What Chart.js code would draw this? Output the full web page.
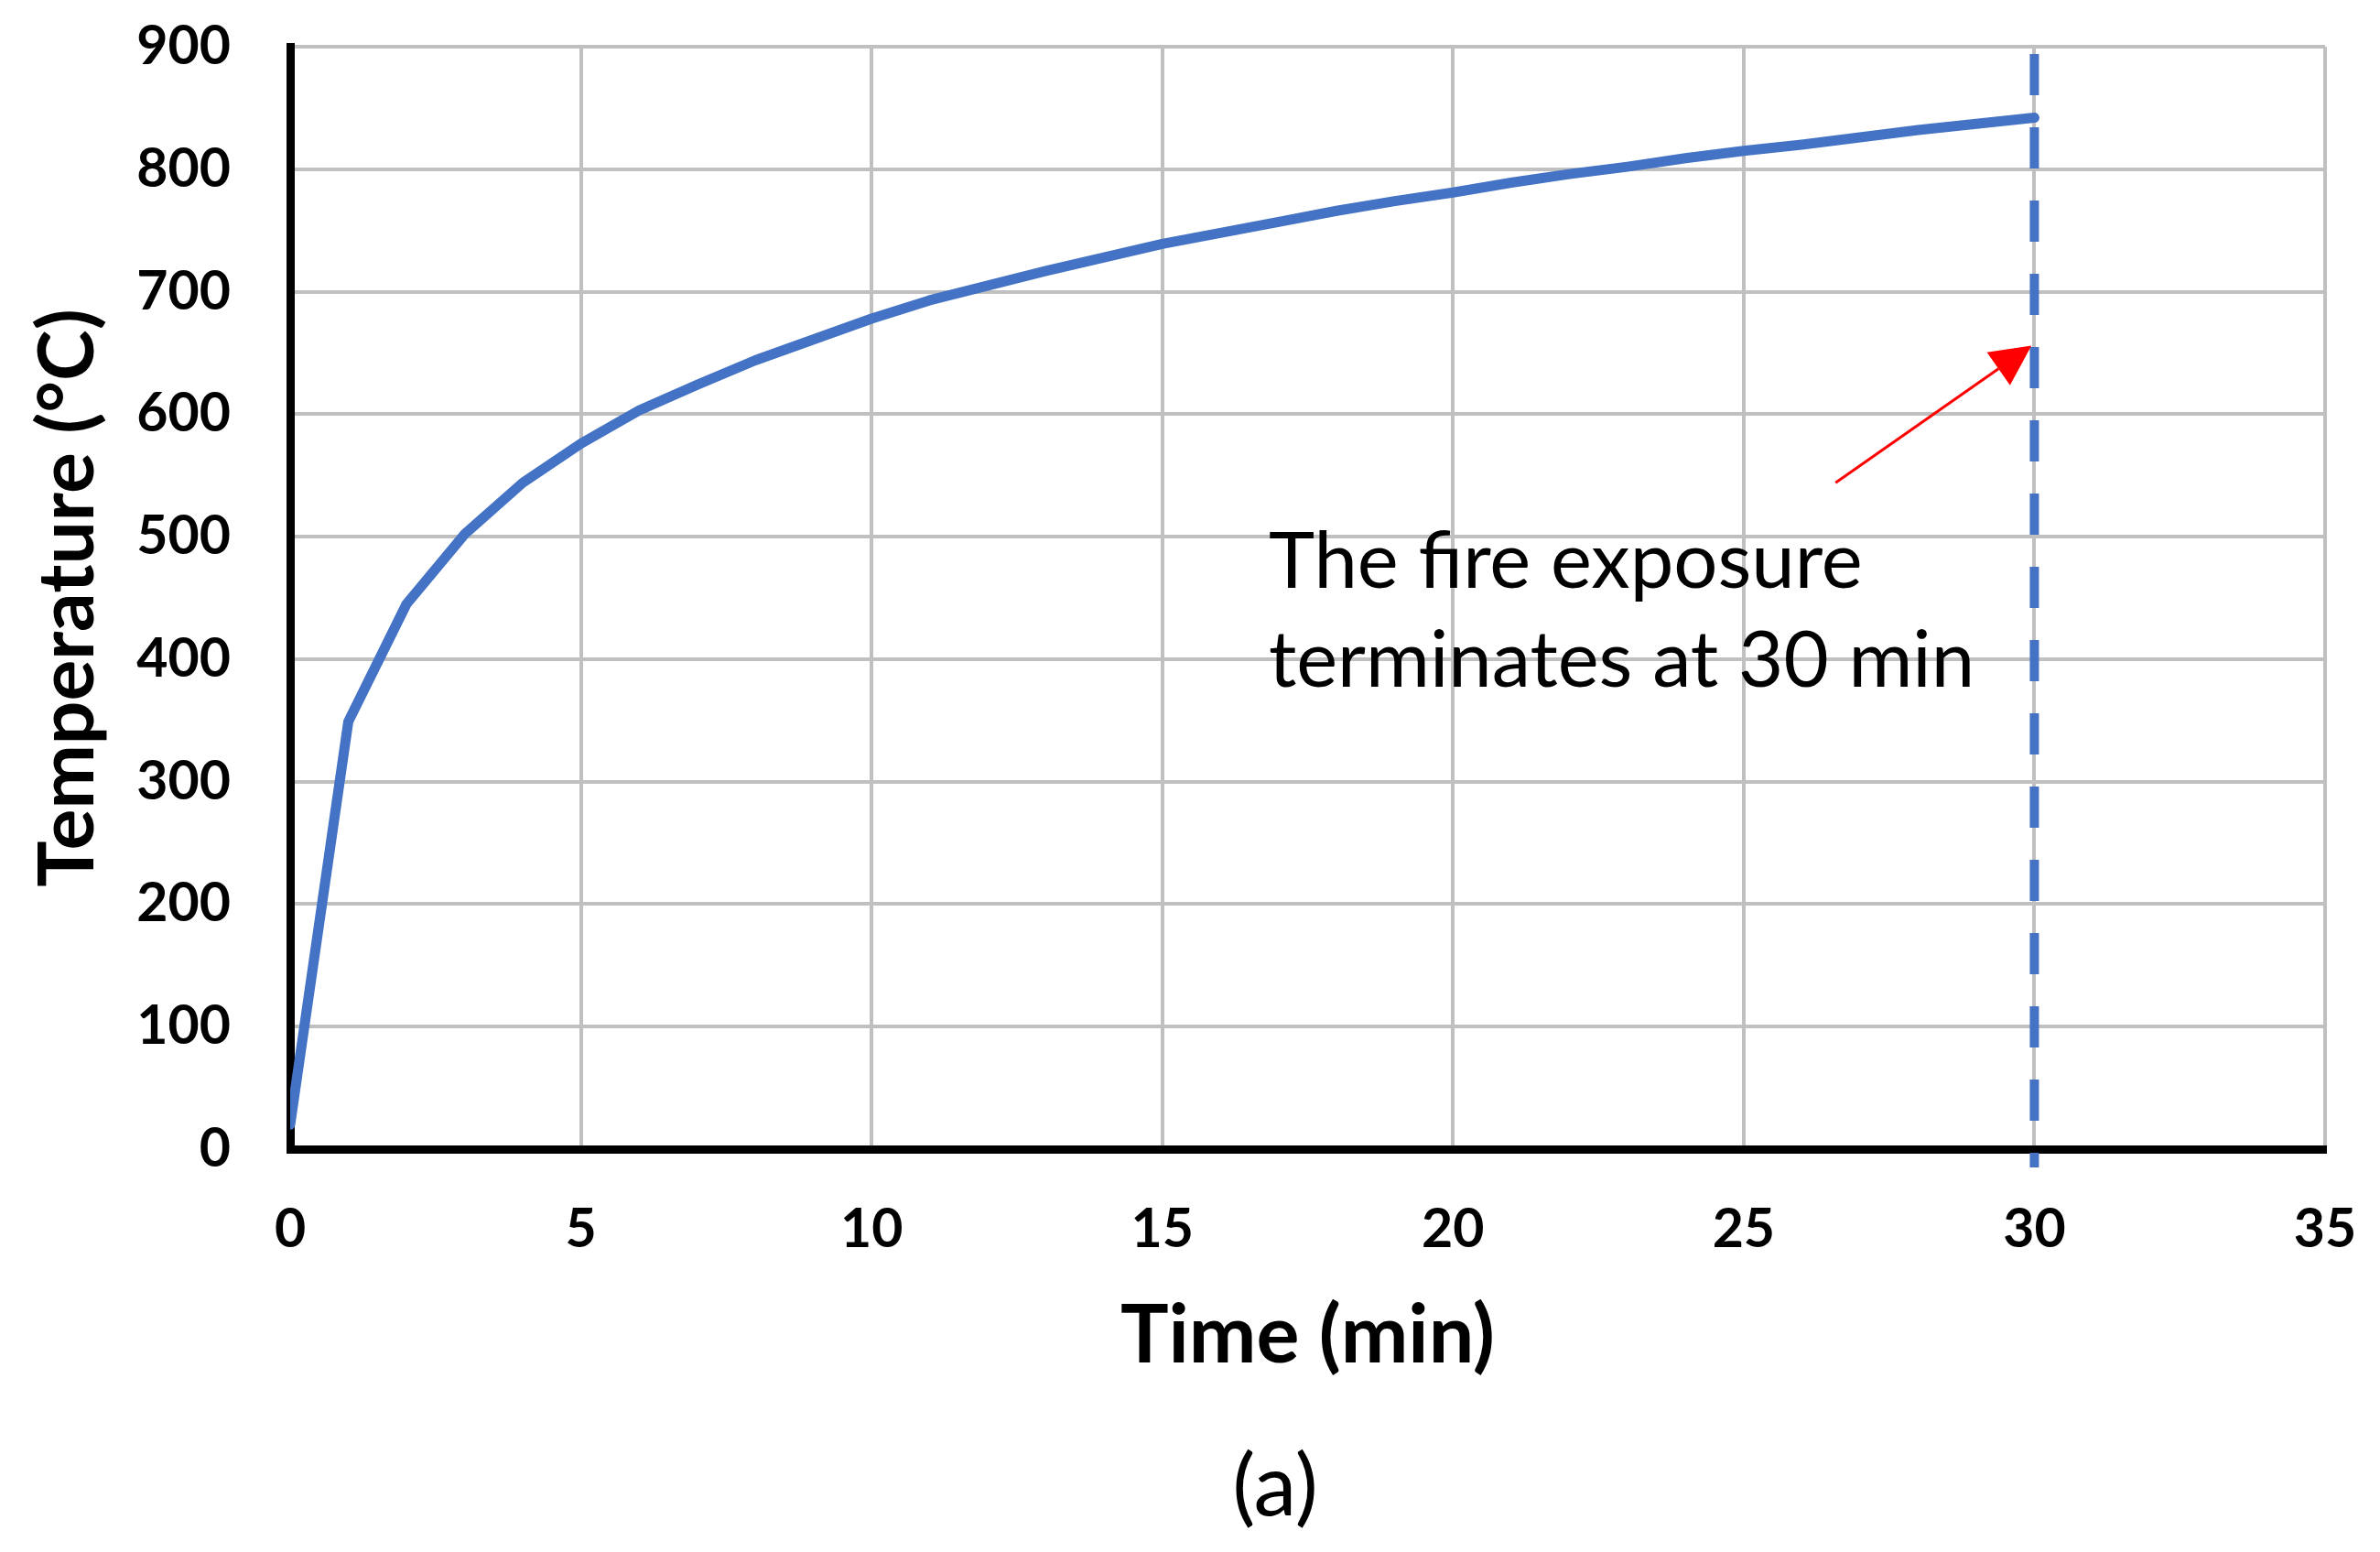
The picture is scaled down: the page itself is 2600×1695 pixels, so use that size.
<!DOCTYPE html>
<html lang="en">
<head>
<meta charset="UTF-8">
<title>Fire exposure temperature</title>
<script src="https://cdn.jsdelivr.net/npm/chart.js"></script>
<style>
  body { margin: 0; background: #fff; }
  canvas { display: block; }
</style>
</head>
<body>
<canvas id="fireChart" width="2600" height="1695"></canvas>
<script>
// gas temperature, one point per minute
const timeMin = [0, 1, 2, 3, 4, 5, 6, 7, 8, 9, 10, 11, 12, 13, 14, 15,
                 16, 17, 18, 19, 20, 21, 22, 23, 24, 25, 26, 27, 28, 29, 30];
const tempC = [20, 349, 445, 502, 544, 576, 603, 624, 644, 661, 678, 693, 705, 717, 728, 739,
               748, 757, 766, 774, 781, 789, 796, 802, 809, 815, 820, 826, 832, 837, 842];

// axis ticks
const xTicks = [0, 5, 10, 15, 20, 25, 30, 35];
const yTicks = [0, 100, 200, 300, 400, 500, 600, 700, 800, 900];

// end of exposure, dashed marker runs between these temperatures
const cutoffTime = 30;
const cutoffRange = [894, -15];

// red arrow (min, °C)
const arrowTail = [26.58, 544];
const arrowHead = [29.95, 656];

// note text
const noteLines = ['The fire exposure', 'terminates at 30 min'];
const noteX = 16.83;
const noteBaselines = [458, 377.5];

const blue = '#4472C4';
const gridGrey = '#C0C0C0';

// pick a Lato size that gives the text the width it has in the figure
const measureCtx = document.createElement('canvas').getContext('2d');
function fitSize(text, weight, width) {
    measureCtx.font = weight + ' 100px Lato';
    return Math.round(100 * width / measureCtx.measureText(text).width);
}
const tickSize = fitSize('900', 'bold', 103);
const xTitleSize = fitSize('Time (min)', 'bold', 410);
const yTitleSize = fitSize('Temperature (\u00B0C)', 'bold', 630);
const noteSize = fitSize(noteLines[1], 'normal', 770);
const captionSize = fitSize('(a)', 'normal', 93);

// arrow, note and the (a) caption
const extras = {
    id: 'extras',
    afterDatasetsDraw(chart) {
        const { ctx, scales: { x, y } } = chart;
        ctx.save();

        const x0 = x.getPixelForValue(arrowTail[0]), y0 = y.getPixelForValue(arrowTail[1]);
        const x1 = x.getPixelForValue(arrowHead[0]), y1 = y.getPixelForValue(arrowHead[1]);
        const ang = Math.atan2(y1 - y0, x1 - x0);
        const headLen = 44, headHalf = 22;
        const bx = x1 - headLen * Math.cos(ang), by = y1 - headLen * Math.sin(ang);
        ctx.strokeStyle = '#FF0000';
        ctx.fillStyle = '#FF0000';
        ctx.lineWidth = 3;
        ctx.beginPath();
        ctx.moveTo(x0, y0);
        ctx.lineTo(bx, by);
        ctx.stroke();
        ctx.beginPath();
        ctx.moveTo(x1, y1);
        ctx.lineTo(bx + headHalf * Math.sin(ang), by - headHalf * Math.cos(ang));
        ctx.lineTo(bx - headHalf * Math.sin(ang), by + headHalf * Math.cos(ang));
        ctx.closePath();
        ctx.fill();

        ctx.fillStyle = '#000';
        ctx.font = noteSize + 'px Lato';
        ctx.textAlign = 'left';
        ctx.textBaseline = 'alphabetic';
        noteLines.forEach((t, i) => {
            ctx.fillText(t, x.getPixelForValue(noteX), y.getPixelForValue(noteBaselines[i]));
        });

        ctx.font = captionSize + 'px Lato';
        ctx.textAlign = 'center';
        ctx.textBaseline = 'middle';
        ctx.fillText('(a)', 1393, 1625);
        ctx.restore();
    }
};

new Chart(document.getElementById('fireChart'), {
    type: 'line',
    data: {
        datasets: [
            {
                data: timeMin.map((t, i) => ({ x: t, y: tempC[i] })),
                borderColor: blue,
                borderWidth: 11,
                borderCapStyle: 'round',
                borderJoinStyle: 'round',
                pointRadius: 0,
                tension: 0
            },
            {
                data: cutoffRange.map(v => ({ x: cutoffTime, y: v })),
                borderColor: blue,
                borderWidth: 10,
                borderDash: [45, 35],
                pointRadius: 0,
                clip: false
            }
        ]
    },
    options: {
        responsive: false,
        animation: false,
        devicePixelRatio: 1,
        layout: { autoPadding: false, padding: { top: 51, right: 60, left: 0, bottom: 0 } },
        plugins: {
            legend: { display: false },
            tooltip: { enabled: false }
        },
        scales: {
            x: {
                type: 'linear',
                min: 0,
                max: 35,
                afterBuildTicks: s => { s.ticks = xTicks.map(v => ({ value: v })); },
                // fixed height; drop the label overhang so the plot edges stay put
                afterFit: s => { s.height = 440; s.paddingLeft = 0; s.paddingRight = 0; },
                grid: { color: gridGrey, lineWidth: 4, drawTicks: false },
                border: { color: '#000', width: 9 },
                ticks: {
                    color: '#000',
                    maxRotation: 0,
                    padding: 88 - tickSize / 2,
                    font: { family: 'Lato', weight: 'bold', size: tickSize, lineHeight: 1 }
                },
                title: {
                    display: true,
                    text: 'Time (min)',
                    color: '#000',
                    font: { family: 'Lato', weight: 'bold', size: xTitleSize, lineHeight: 1 },
                    padding: { top: 0, bottom: 235 - xTitleSize / 2 }
                }
            },
            y: {
                min: 0,
                max: 900,
                afterBuildTicks: s => { s.ticks = yTicks.map(v => ({ value: v })); },
                afterFit: s => { s.width = 317; s.paddingTop = 0; s.paddingBottom = 0; },
                grid: { color: gridGrey, lineWidth: 4, drawTicks: false },
                border: { color: '#000', width: 9 },
                ticks: {
                    color: '#000',
                    padding: 65,
                    font: { family: 'Lato', weight: 'bold', size: tickSize, lineHeight: 1 }
                },
                title: {
                    display: true,
                    text: 'Temperature (\u00B0C)',
                    color: '#000',
                    font: { family: 'Lato', weight: 'bold', size: yTitleSize, lineHeight: 1 },
                    padding: { top: 75 - yTitleSize / 2, bottom: 0 }
                }
            }
        }
    },
    plugins: [extras]
});
</script>
</body>
</html>
